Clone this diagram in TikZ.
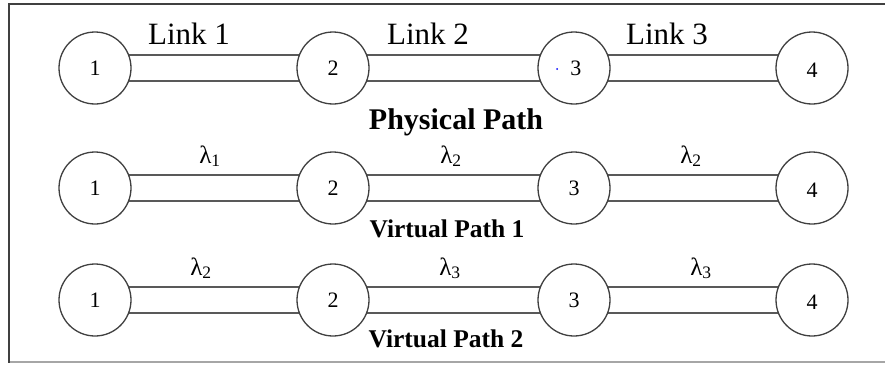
\documentclass[tikz,border=0pt]{standalone}
\usepackage{fontspec}
\setmainfont{Liberation Serif}
\usetikzlibrary{backgrounds}
\begin{document}
\begin{tikzpicture}[x=1pt,y=-1pt,
  router/.style={circle, draw=black!75, line width=1.3pt, fill=white, minimum size=72pt, inner sep=0pt, font=\fontsize{22}{24}\selectfont},
  lastrouter/.style={router, text height=19pt, text depth=0pt},
  fiber/.style={draw=black!65, line width=2.2pt, double=white, double distance=23.8pt},
  linklab/.style={anchor=base, inner sep=0pt, font=\fontsize{31}{36}\selectfont},
  lamlab/.style={anchor=base, inner sep=0pt, font=\fontsize{25}{28}\selectfont},
  pathlab/.style={anchor=base, inner sep=0pt, font=\bfseries\fontsize{30}{34}\selectfont},
  vpathlab/.style={anchor=base, inner sep=0pt, font=\bfseries\fontsize{25.5}{28}\selectfont},
  frametop/.style={draw=black!75, line width=2.4pt},
  framebot/.style={draw=black!35, line width=1.5pt}]
\useasboundingbox (0,0) rectangle (885,364);
% frame
\draw[framebot] (9,362) -- (885,362);
\draw[frametop] (885,4) -- (9,4) -- (9,363);
% row 1: physical path
\node[router] (a1) at (95,68) {1};
\node[router] (a2) at (333,68) {2};
\node[router] (a3) at (574,68) {\,3};
\node[lastrouter] (a4) at (812,68) {4};
% row 2
\node[router] (b1) at (95,188) {1};
\node[router] (b2) at (333,188) {2};
\node[router] (b3) at (574,188) {3};
\node[lastrouter] (b4) at (812,188) {4};
% row 3
\node[router] (c1) at (95,300) {1};
\node[router] (c2) at (333,300) {2};
\node[router] (c3) at (574,300) {3};
\node[lastrouter] (c4) at (812,300) {4};
\fill[blue] (557,69) circle (1pt);
\begin{scope}[on background layer]
  \draw[fiber] (a1.center) -- (a2.center);
  \draw[fiber] (a2.center) -- (a3.center);
  \draw[fiber] (a3.center) -- (a4.center);
  \draw[fiber] (b1.center) -- (b2.center);
  \draw[fiber] (b2.center) -- (b3.center);
  \draw[fiber] (b3.center) -- (b4.center);
  \draw[fiber] (c1.center) -- (c2.center);
  \draw[fiber] (c2.center) -- (c3.center);
  \draw[fiber] (c3.center) -- (c4.center);
\end{scope}
% labels
\node[linklab] (l1) at (189,44) {Link 1};
\node[linklab] (l2) at (428,44) {Link 2};
\node[linklab] (l3) at (667,44) {Link 3};
\node[pathlab] (pp) at (456,129) {Physical Path};
\node[lamlab] (m1) at (210,163) {λ\textsubscript{1}};
\node[lamlab] (m2) at (451,163) {λ\textsubscript{2}};
\node[lamlab] (m3) at (691,163) {λ\textsubscript{2}};
\node[vpathlab] (v1) at (447,237) {Virtual Path 1};
\node[lamlab] (n1) at (201,275) {λ\textsubscript{2}};
\node[lamlab] (n2) at (450,275) {λ\textsubscript{3}};
\node[lamlab] (n3) at (701,275) {λ\textsubscript{3}};
\node[vpathlab] (v2) at (446,347) {Virtual Path 2};
\end{tikzpicture}
\end{document}
